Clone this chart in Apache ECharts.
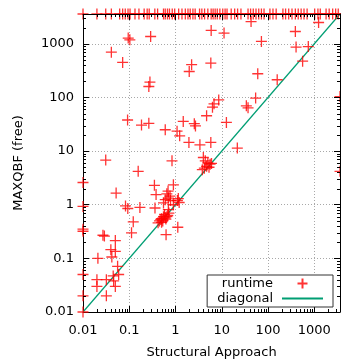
<!DOCTYPE html>
<html><head><meta charset="utf-8">
<script src="https://cdn.jsdelivr.net/npm/echarts@6/dist/echarts.min.js"></script>
<style>html,body{margin:0;padding:0;background:#fff}#c{width:341px;height:360px}</style>
</head><body><div id="c"></div>
<script>
// Structural Approach runtime (x) and MAXQBF (free) runtime (y), seconds
const structural = [
  0.095,0.103,0.29,0.041,0.072,0.28,0.265,0.092,0.184,0.265,0.60,0.031,0.156,
  5.9,11.2,43,2.23,1.98,5.8,60,8.6,6.8,6.3,4.7,34,37,54,1.47,2.55,2.7,1.08,1.23,12.6,1.95,3.37,5.8,21.7,0.84,
  4.0,4.4,5.0,5.6,4.7,5.3,4.2,3.8,6.0,
  390,1240,72,404,743,560,158,3600,3600,
  0.01,0.01,0.01,0.01,0.01,0.01,0.01,
  0.052,0.083,0.093,0.17,0.122,0.112,0.027,0.029,0.050,0.040,0.050,0.042,0.021,0.056,0.059,0.045,0.020,0.032,0.046,0.020,0.050,0.032,
  0.35,0.90,0.38,0.65,0.69,0.70,0.60,0.55,0.36,0.70,0.90,0.76,0.78,1.1,1.2,1.15,0.625,1.12,0.65,
  0.45,0.50,0.55,0.60,0.50,0.42,0.58,0.68,0.72,0.48,0.62,0.53,
  0.01,0.020,0.031,0.041,0.062,0.072,0.082,0.094,0.104,0.133,0.162,0.21,0.244,0.27,0.357,0.41,0.55,0.60,
  0.67,0.74,0.85,0.96,1.17,1.38,1.63,1.86,2.08,2.38,2.66,3.31,3.71,4.25,5.0,5.9,6.5,7.2,8.0,9.1,10.5,11.8,
  13.0,16,19,22,26,37,42,48,55,63,72,82,110,128,150,210,240,280,330,390,450,520,600,700,1020,1200,1350,
  1800,2100,2500,2900,3300
];
const maxqbf = [
  1280,1190,1370,700,450,194,160,38,30.6,33,25,6.8,4.2,
  1775,1585,2600,408,305,438,277,90,76,66,45.6,70,64,97.5,35.7,32.5,29.5,23.5,19.3,34.2,14.5,13.1,14.5,11.4,6.6,
  7.6,6.6,6.0,5.7,5.2,5.0,4.8,4.5,5.9,
  1700,2500,1107,869,890,475,214,104,4.2,
  2.6,0.93,0.35,0.32,0.05,0.02,0.01,
  1.65,0.95,0.85,0.89,0.48,0.30,0.27,0.26,0.215,0.145,0.135,0.106,0.10,0.071,0.050,0.047,0.040,0.040,0.038,0.030,0.030,0.020,
  2.3,2.35,1.55,1.6,1.8,1.33,1.24,1.08,0.87,0.81,1.0,1.45,1.2,1.2,1.1,1.3,0.276,0.38,0.60,
  0.50,0.55,0.60,0.57,0.47,0.46,0.66,0.63,0.70,0.53,0.54,0.50,
  3600,3600,3600,3600,3600,3600,3600,3600,3600,3600,3600,3600,3600,3600,3600,3600,3600,3600,
  3600,3600,3600,3600,3600,3600,3600,3600,3600,3600,3600,3600,3600,3600,3600,3600,3600,3600,3600,3600,3600,3600,
  3600,3600,3600,3600,3600,3600,3600,3600,3600,3600,3600,3600,3600,3600,3600,3600,3600,3600,3600,3600,3600,3600,3600,3600,3600,3600,3600,
  3600,3600,3600,3600,3600
];
const diagonalX = [0.01, 3600];
const diagonalY = [0.01, 3600];
const tickLabels = ['0.01','0.1','1','10','100','1000'];
const axisMin = 0.01, axisMax = 3600;

const FONT = 'DejaVu Sans';
const chart = echarts.init(document.getElementById('c'), null, {renderer:'canvas'});

function labelFor(v){
  const l = Math.log10(v), e = Math.round(l);
  if (Math.abs(l - e) > 1e-6) return '';
  const i = e + 2;
  return (i >= 0 && i < tickLabels.length) ? tickLabels[i] : '';
}
function minorValues(){
  const out = [];
  for (let e = -2; e <= 3; e++) for (let m = 2; m <= 9; m++) { const v = m * Math.pow(10, e); if (v < axisMax) out.push(v); }
  return out;
}
const splitStyle = {show:true, lineStyle:{color:'#a8a8a8', width:1, type:[1,2]}};
const baseAxis = {
  type:'log', logBase:10, min:axisMin, max:axisMax,
  axisLine:{show:true, onZero:false, lineStyle:{color:'#000', width:1}},
  axisTick:{show:true, inside:true, length:6, lineStyle:{color:'#000'}},
};
const points = structural.map((x, i) => [x, maxqbf[i]]);
const diag = diagonalX.map((x, i) => [x, diagonalY[i]]);

chart.setOption({
  animation:false,
  backgroundColor:'#fff',
  grid:{left:83, right:1, top:14, bottom:48, outerBoundsMode:'none', containLabel:false},
  xAxis:[
    Object.assign({}, baseAxis, {position:'bottom', splitLine:splitStyle,
      axisLabel:{formatter:labelFor, fontSize:13, color:'#000', fontFamily:FONT, margin:12, showMaxLabel:false},
      name:'Structural Approach', nameLocation:'middle', nameGap:34,
      nameTextStyle:{fontSize:13, color:'#000', fontFamily:FONT}}),
    Object.assign({}, baseAxis, {position:'top', z:3, splitLine:{show:false}, axisLabel:{show:false}})
  ],
  yAxis:[
    Object.assign({}, baseAxis, {position:'left', splitLine:splitStyle,
      axisLabel:{formatter:labelFor, fontSize:13, color:'#000', fontFamily:FONT, margin:9, showMaxLabel:false},
      name:'MAXQBF (free)', nameLocation:'middle', nameGap:58,
      nameTextStyle:{fontSize:13, color:'#000', fontFamily:FONT}}),
    Object.assign({}, baseAxis, {position:'right', z:3, splitLine:{show:false}, axisLabel:{show:false}})
  ],
  legend:{
    data:['runtime', {name:'diagonal', itemStyle:{opacity:0}}], orient:'vertical', align:'right',
    right:8, bottom:53, itemWidth:41, itemHeight:10, itemGap:2,
    padding:[2,9,2,10], borderColor:'#333', borderWidth:1, backgroundColor:'#fff',
    symbolKeepAspect:true,
    textStyle:{fontSize:13, color:'#000', fontFamily:FONT, padding:[0,4,0,0]}
  },
  series:[
    {
      type:'custom', name:'minorTicks', silent:true, clip:false, z:3,
      data:[[axisMin, axisMin]],
      renderItem:function(params, api){
        const bl = api.coord([axisMin, axisMin]);
        const tr = api.coord([axisMax, axisMax]);
        const ch = [];
        const st = {stroke:'#000', lineWidth:1};
        minorValues().forEach(v => {
          const px = Math.round(api.coord([v, axisMin])[0]) + 0.5;
          const py = Math.round(api.coord([axisMin, v])[1]) + 0.5;
          ch.push({type:'line', shape:{x1:px, y1:bl[1], x2:px, y2:bl[1]-3}, style:st});
          ch.push({type:'line', shape:{x1:px, y1:tr[1], x2:px, y2:tr[1]+3}, style:st});
          ch.push({type:'line', shape:{x1:bl[0], y1:py, x2:bl[0]+3, y2:py}, style:st});
          ch.push({type:'line', shape:{x1:tr[0], y1:py, x2:tr[0]-3, y2:py}, style:st});
        });
        return {type:'group', children:ch};
      }
    },
    {
      type:'line', name:'diagonal', data:diag, symbol:'none', showSymbol:false,
      lineStyle:{color:'#009e73', width:1.2}, itemStyle:{color:'#009e73'}, z:1, clip:false
    },
    {
      type:'scatter', name:'runtime', data:points, clip:false, z:2,
      symbol:'path://M0,5L10,5M5,0L5,10', symbolSize:11, symbolKeepAspect:true,
      itemStyle:{color:'rgba(0,0,0,0)', borderColor:'#ff0000', borderWidth:1.3}
    }
  ]
});
</script></body></html>
